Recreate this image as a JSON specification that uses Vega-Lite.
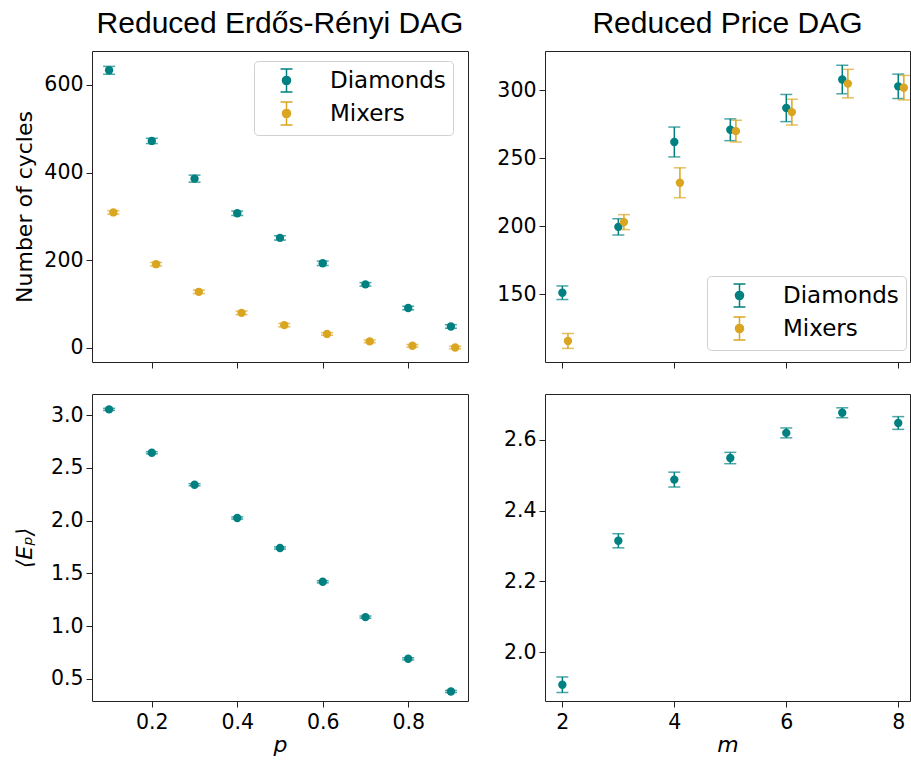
{
  "$schema": "https://vega.github.io/schema/vega-lite/v6.json",
  "padding": {"left": 12, "right": 0, "top": 8, "bottom": 0},
  "background": "white",
  "config": {
    "font": "DejaVu Sans",
    "view": {"stroke": "#222", "strokeWidth": 1},
    "axis": {
      "grid": false, "domain": false,
      "tickColor": "#222", "tickSize": 6, "tickWidth": 1,
      "labelColor": "#000", "labelFontSize": 20.5, "labelFont": "DejaVu Sans", "labelPadding": 3,
      "titleFont": "DejaVu Sans", "titleFontWeight": "normal", "titleFontSize": 22, "titleColor": "#000"
    },
    "title": {"font": "Liberation Sans", "fontSize": 30, "fontWeight": "normal", "color": "#000", "offset": 12},
    "legend": {
      "labelFont": "DejaVu Sans", "labelFontSize": 23, "labelColor": "#000",
      "padding": 7, "rowPadding": 4, "labelOffset": 31,
      "symbolSize": 529, "symbolStrokeWidth": 1.5, "symbolOffset": 13,
      "symbolType": "M-0.52,-1H0.52M0,-1V1M-0.52,1H0.52M0.35,0A0.35,0.35,0,1,1,-0.35,0A0.35,0.35,0,1,1,0.35,0Z",
      "strokeColor": "#d0d0d0", "fillColor": "white", "cornerRadius": 4
    }
  },
  "datasets": {
    "er_cycles": [
      {"series": "Diamonds", "x": 0.1, "value": 633, "err": 9},
      {"series": "Diamonds", "x": 0.2, "value": 472, "err": 6},
      {"series": "Diamonds", "x": 0.3, "value": 386, "err": 8},
      {"series": "Diamonds", "x": 0.4, "value": 307, "err": 5},
      {"series": "Diamonds", "x": 0.5, "value": 251, "err": 5},
      {"series": "Diamonds", "x": 0.6, "value": 193, "err": 5},
      {"series": "Diamonds", "x": 0.7, "value": 145, "err": 4},
      {"series": "Diamonds", "x": 0.8, "value": 91, "err": 4},
      {"series": "Diamonds", "x": 0.9, "value": 49, "err": 4},
      {"series": "Mixers", "x": 0.11, "value": 309, "err": 4},
      {"series": "Mixers", "x": 0.21, "value": 191, "err": 4},
      {"series": "Mixers", "x": 0.31, "value": 128, "err": 4},
      {"series": "Mixers", "x": 0.41, "value": 80, "err": 4},
      {"series": "Mixers", "x": 0.51, "value": 52, "err": 4},
      {"series": "Mixers", "x": 0.61, "value": 32, "err": 3},
      {"series": "Mixers", "x": 0.71, "value": 15, "err": 3},
      {"series": "Mixers", "x": 0.81, "value": 5, "err": 3},
      {"series": "Mixers", "x": 0.91, "value": 1, "err": 3}
    ],
    "price_cycles": [
      {"series": "Diamonds", "x": 2, "value": 151, "err": 5},
      {"series": "Diamonds", "x": 3, "value": 199.5, "err": 6},
      {"series": "Diamonds", "x": 4, "value": 262, "err": 11},
      {"series": "Diamonds", "x": 5, "value": 271, "err": 8},
      {"series": "Diamonds", "x": 6, "value": 287, "err": 10},
      {"series": "Diamonds", "x": 7, "value": 308, "err": 10.5},
      {"series": "Diamonds", "x": 8, "value": 303, "err": 9},
      {"series": "Mixers", "x": 2.1, "value": 115.5, "err": 5.5},
      {"series": "Mixers", "x": 3.1, "value": 203, "err": 5.5},
      {"series": "Mixers", "x": 4.1, "value": 232, "err": 11},
      {"series": "Mixers", "x": 5.1, "value": 270, "err": 8},
      {"series": "Mixers", "x": 6.1, "value": 284, "err": 9.5},
      {"series": "Mixers", "x": 7.1, "value": 305, "err": 10.5},
      {"series": "Mixers", "x": 8.1, "value": 302, "err": 9}
    ],
    "er_ep": [
      {"x": 0.1, "value": 3.054, "err": 0.01},
      {"x": 0.2, "value": 2.643, "err": 0.01},
      {"x": 0.3, "value": 2.34, "err": 0.01},
      {"x": 0.4, "value": 2.025, "err": 0.01},
      {"x": 0.5, "value": 1.74, "err": 0.01},
      {"x": 0.6, "value": 1.42, "err": 0.01},
      {"x": 0.7, "value": 1.085, "err": 0.01},
      {"x": 0.8, "value": 0.69, "err": 0.01},
      {"x": 0.9, "value": 0.38, "err": 0.01}
    ],
    "price_ep": [
      {"x": 2, "value": 1.908, "err": 0.022},
      {"x": 3, "value": 2.315, "err": 0.02},
      {"x": 4, "value": 2.488, "err": 0.021},
      {"x": 5, "value": 2.549, "err": 0.016},
      {"x": 6, "value": 2.62, "err": 0.014},
      {"x": 7, "value": 2.677, "err": 0.014},
      {"x": 8, "value": 2.648, "err": 0.018}
    ]
  },
  "columns": 2,
  "spacing": {"row": 24, "column": 27},
  "resolve": {
    "scale": {"color": "independent", "x": "independent", "y": "independent"},
    "legend": {"color": "independent"}
  },
  "concat": [
    {
      "title": {"text": "Reduced Erdős-Rényi DAG"},
      "width": 376, "height": 311,
      "data": {"name": "er_cycles"},
      "encoding": {
        "x": {"field": "x", "type": "quantitative", "scale": {"domain": [0.06, 0.94], "nice": false, "zero": false},
              "axis": {"values": [0.2, 0.4, 0.6, 0.8], "labels": false, "title": null, "minExtent": 6, "maxExtent": 6}},
        "y": {"field": "value", "type": "quantitative", "scale": {"domain": [-32, 677], "nice": false, "zero": false},
              "axis": {"values": [0, 200, 400, 600], "title": "Number of cycles", "minExtent": 48, "maxExtent": 48, "titlePadding": 8}},
        "color": {"field": "series", "type": "nominal", "scale": {"domain": ["Diamonds", "Mixers"], "range": ["#008080", "#DAA520"]},
                  "legend": {"title": null, "orient": "none", "legendX": 162, "legendY": 10,
                             "encode": {"symbols": {"update": {
                               "fill": {"signal": "datum.value === 'Diamonds' ? '#008080' : '#DAA520'"},
                               "stroke": {"signal": "datum.value === 'Diamonds' ? '#008080' : '#DAA520'"},
                               "strokeWidth": {"value": 1.5}, "opacity": {"value": 1}}}}}}
      },
      "layer": [
        {"mark": {"type": "errorbar", "ticks": {"size": 12, "thickness": 1.5}, "thickness": 1.5},
         "encoding": {"yError": {"field": "err"}}},
        {"mark": {"type": "point", "filled": true, "size": 70, "opacity": 1}}
      ]
    },
    {
      "title": {"text": "Reduced Price DAG"},
      "width": 365, "height": 311,
      "data": {"name": "price_cycles"},
      "encoding": {
        "x": {"field": "x", "type": "quantitative", "scale": {"domain": [1.69, 8.21], "nice": false, "zero": false},
              "axis": {"values": [2, 4, 6, 8], "labels": false, "title": null, "minExtent": 6, "maxExtent": 6}},
        "y": {"field": "value", "type": "quantitative", "scale": {"domain": [100, 329], "nice": false, "zero": false},
              "axis": {"values": [150, 200, 250, 300], "title": null, "minExtent": 48, "maxExtent": 48}},
        "color": {"field": "series", "type": "nominal", "scale": {"domain": ["Diamonds", "Mixers"], "range": ["#008080", "#DAA520"]},
                  "legend": {"title": null, "orient": "none", "legendX": 162, "legendY": 225,
                             "encode": {"symbols": {"update": {
                               "fill": {"signal": "datum.value === 'Diamonds' ? '#008080' : '#DAA520'"},
                               "stroke": {"signal": "datum.value === 'Diamonds' ? '#008080' : '#DAA520'"},
                               "strokeWidth": {"value": 1.5}, "opacity": {"value": 1}}}}}}
      },
      "layer": [
        {"mark": {"type": "errorbar", "ticks": {"size": 12, "thickness": 1.5}, "thickness": 1.5},
         "encoding": {"yError": {"field": "err"}}},
        {"mark": {"type": "point", "filled": true, "size": 70, "opacity": 1}}
      ]
    },
    {
      "width": 376, "height": 307,
      "data": {"name": "er_ep"},
      "encoding": {
        "x": {"field": "x", "type": "quantitative", "scale": {"domain": [0.06, 0.94], "nice": false, "zero": false},
              "axis": {"values": [0.2, 0.4, 0.6, 0.8], "format": ".1f", "title": "p", "titleFontStyle": "italic", "titlePadding": 2, "labelPadding": 5}},
        "y": {"field": "value", "type": "quantitative", "scale": {"domain": [0.29, 3.2], "nice": false, "zero": false},
              "axis": {"values": [0.5, 1.0, 1.5, 2.0, 2.5, 3.0], "format": ".1f", "title": "⟨Eₚ⟩", "titleFontStyle": "italic", "minExtent": 48, "maxExtent": 48, "titlePadding": 8}}
      },
      "layer": [
        {"mark": {"type": "errorbar", "ticks": {"size": 12, "thickness": 1.5}, "thickness": 1.5, "color": "#008080"},
         "encoding": {"yError": {"field": "err"}}},
        {"mark": {"type": "point", "filled": true, "size": 70, "opacity": 1, "color": "#008080"}}
      ]
    },
    {
      "width": 365, "height": 307,
      "data": {"name": "price_ep"},
      "encoding": {
        "x": {"field": "x", "type": "quantitative", "scale": {"domain": [1.69, 8.21], "nice": false, "zero": false},
              "axis": {"values": [2, 4, 6, 8], "title": "m", "titleFontStyle": "italic", "titlePadding": 2, "labelPadding": 5}},
        "y": {"field": "value", "type": "quantitative", "scale": {"domain": [1.862, 2.73], "nice": false, "zero": false},
              "axis": {"values": [2.0, 2.2, 2.4, 2.6], "format": ".1f", "title": null, "minExtent": 48, "maxExtent": 48}}
      },
      "layer": [
        {"mark": {"type": "errorbar", "ticks": {"size": 12, "thickness": 1.5}, "thickness": 1.5, "color": "#008080"},
         "encoding": {"yError": {"field": "err"}}},
        {"mark": {"type": "point", "filled": true, "size": 70, "opacity": 1, "color": "#008080"}}
      ]
    }
  ]
}
